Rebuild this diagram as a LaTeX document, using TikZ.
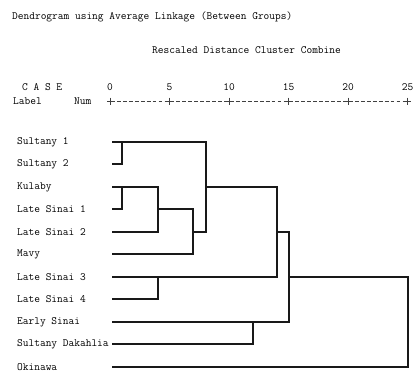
\documentclass[tikz,border=0pt]{standalone}
\usepackage{tikz}
\usetikzlibrary{calc, positioning}

\begin{document}
\begin{tikzpicture}[x=1pt, y=-1pt,
        txt/.style={anchor=west, inner sep=0pt, font=\fontsize{11.1}{13}\selectfont\ttfamily},
        tick/.style={anchor=center, inner sep=0pt, font=\fontsize{11.1}{13}\selectfont\ttfamily},
        tree/.style={line width=1.2pt, black!90, line cap=rect},
        axis/.style={line width=0.6pt, black!75}
      ]
      \useasboundingbox (0,0) rectangle (413,372);

      % Ueberschriften
      \node[txt] (title) at (12,17) {Dendrogram using Average Linkage (Between Groups)};
      \node[txt] (rescaled) at (152,50) {Rescaled Distance Cluster Combine};
      \node[txt] (case) at (22,87) {C A S E};
      \node[txt] (label) at (13,101) {Label};
      \node[txt] (num) at (74,101) {Num};

      % Skala 0 bis 25
      \coordinate (a0) at (110,101);
      \coordinate (a25) at (407.5,101);
      \draw[axis, dash pattern=on 3.8pt off 2.15pt, dash phase=-1pt] (a0) -- (a25);
      \foreach \d in {0,5,...,25} {
        \node[tick] (t\d) at ({110+11.9*\d},87) {\d};
        \draw[axis] ($(a0)+(11.9*\d,0)$) ++(-3,0) -- ++(6,0) ++(-3,-3.5) -- ++(0,7);
      }

      % Faelle (Blaetter), Zeilen auf ganze Pixel
      \foreach \n/\t/\y in {s1/Sultany 1/142, s2/Sultany 2/164, ku/Kulaby/187,
          ls1/Late Sinai 1/209, ls2/Late Sinai 2/232, mv/Mavy/254,
          ls3/Late Sinai 3/277, ls4/Late Sinai 4/299, es/Early Sinai/322,
          sd/Sultany Dakahlia/344, ok/Okinawa/367} {
        \node[txt] (\n) at (17,\y) {\t};
        \coordinate (\n-r) at (113,\y);
      }

      % Fusionsniveaus (x-Lage)
      \foreach \n/\x in {d1/122, d4/158, d7/193, d8/206, d12/253, d14/277, d15/289, d25/408}
        \coordinate (\n) at (\x,0);

      % Baum
      \draw[tree] (s1-r) -- (s1-r -| d8) -- (ls2-r -| d8);
      \draw[tree] (s2-r) -- (s2-r -| d1) -- (s1-r -| d1);
      \draw[tree] (ku-r) -- (ku-r -| d4) -- (ls2-r -| d4) -- (ls2-r);
      \draw[tree] (ku-r -| d1) -- (ls1-r -| d1) -- (ls1-r);
      \draw[tree] (ls1-r -| d4) -- (ls1-r -| d7) -- (mv-r -| d7) -- (mv-r);
      \draw[tree] (ls2-r -| d7) -- (ls2-r -| d8);
      \draw[tree] (ku-r -| d8) -- (ku-r -| d14) -- (ls3-r -| d14) -- (ls3-r);
      \draw[tree] (ls4-r) -- (ls4-r -| d4) -- (ls3-r -| d4);
      \draw[tree] (ls2-r -| d14) -- (ls2-r -| d15) -- (es-r -| d15) -- (es-r);
      \draw[tree] (sd-r) -- (sd-r -| d12) -- (es-r -| d12);
      \draw[tree] (ls3-r -| d15) -- (ls3-r -| d25) -- (ok-r -| d25) -- (ok-r);
    \end{tikzpicture}
\end{document}
